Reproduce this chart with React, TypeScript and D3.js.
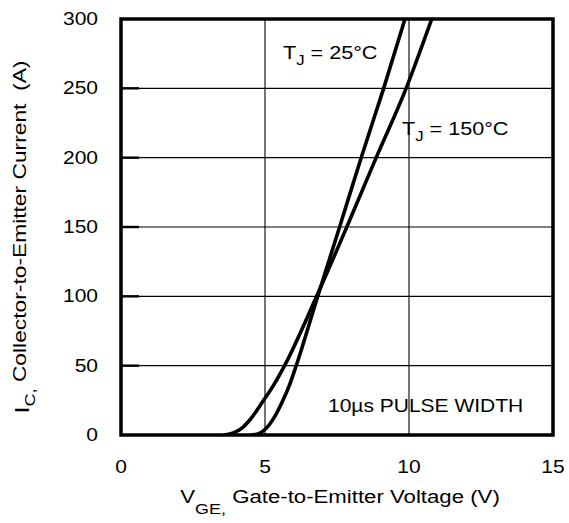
import * as d3 from "d3";

// Transfer characteristic
const vge25 = [4.55, 4.75, 5.0, 5.3, 5.6, 5.85, 6.1, 6.8, 7.59, 8.34, 9.12, 9.86];
const ic25 = [0, 0.8, 4, 12, 24, 36, 51, 98, 150, 200, 250, 300];

const vge150 = [3.6, 3.9, 4.2, 4.47, 4.95, 5.3, 5.68, 6.75, 7.84, 8.86, 9.9, 10.79];
const ic150 = [0, 1.5, 5, 10.8, 25, 36, 50, 98, 150, 200, 250, 300];

const xTicks = [0, 5, 10, 15];
const yTicks = [0, 50, 100, 150, 200, 250, 300];

const W = 569;
const H = 523;
const left = 121;
const right = 553;
const top = 19;
const bottom = 435;
const STRETCH = 1.2;
const FONT = "'Liberation Sans', Arial, Helvetica, sans-serif";

const x = d3.scaleLinear().domain([0, 15]).range([left, right]);
const y = d3.scaleLinear().domain([0, 300]).range([bottom, top]);

const line = d3
  .line<[number, number]>()
  .x((d) => x(d[0]))
  .y((d) => y(d[1]))
  .curve(d3.curveMonotoneX);

const pts = (vs: number[], is: number[]) =>
  vs.map((v, i) => [v, is[i]] as [number, number]);

export default function App() {
  return (
    <div style={{ position: "absolute", left: 0, top: 0 }}>
      <svg width={W} height={H} style={{ display: "block", background: "#fff" }} fontFamily={FONT}>
        <defs>
          <clipPath id="plot">
            <rect x={left} y={top} width={right - left} height={bottom - top} />
          </clipPath>
        </defs>

        {/* grid */}
        {xTicks.slice(1, -1).map((t) => (
          <line key={"gx" + t} x1={x(t)} x2={x(t)} y1={top} y2={bottom} stroke="#000" strokeWidth={1.1} />
        ))}
        {yTicks.slice(1, -1).map((t) => (
          <g key={"gy" + t}>
            <line x1={left} x2={right} y1={y(t)} y2={y(t)} stroke="#000" strokeWidth={1.1} />
            <line x1={left} x2={left + 18} y1={y(t)} y2={y(t)} stroke="#000" strokeWidth={2.4} />
          </g>
        ))}

        {/* curves */}
        <g clipPath="url(#plot)" fill="none" stroke="#000" strokeWidth={3.6} strokeLinecap="round">
          <path d={line(pts(vge25, ic25)) ?? ""} />
          <path d={line(pts(vge150, ic150)) ?? ""} />
        </g>

        <rect x={left} y={top} width={right - left} height={bottom - top} fill="none" stroke="#000" strokeWidth={3.5} />

        {/* tick labels */}
        {yTicks.map((t) => (
          <text key={"ty" + t} transform={`translate(98,${y(t) + 6}) scale(${STRETCH},1)`} textAnchor="end" fontSize={17.5}>
            {t}
          </text>
        ))}
        {xTicks.map((t) => (
          <text key={"tx" + t} transform={`translate(${x(t)},473) scale(${STRETCH},1)`} textAnchor="middle" fontSize={17.5}>
            {t}
          </text>
        ))}

        {/* axis titles */}
        <text transform={`translate(340,503) scale(${STRETCH},1)`} textAnchor="middle" fontSize={18.5} style={{ whiteSpace: "pre" }}>
          <tspan>V</tspan>
          <tspan fontSize={15} dy={11}>GE,</tspan>
          <tspan dy={-11}> Gate-to-Emitter Voltage (V)</tspan>
        </text>
        <text transform={`translate(26,237) rotate(-90) scale(${STRETCH},1)`} textAnchor="middle" fontSize={19} style={{ whiteSpace: "pre" }}>
          <tspan fontSize={21} dy={3}>I</tspan>
          <tspan fontSize={15} dy={6}>C,</tspan>
          <tspan dy={-9}> Collector-to-Emitter Current  (A)</tspan>
        </text>

        {/* annotations */}
        <text transform={`translate(283,59) scale(${STRETCH},1)`} fontSize={18} style={{ whiteSpace: "pre" }}>
          <tspan>T</tspan>
          <tspan fontSize={14} dy={6}>J</tspan>
          <tspan dy={-6}> = 25°C</tspan>
        </text>
        <text transform={`translate(402,135) scale(${STRETCH},1)`} fontSize={18} style={{ whiteSpace: "pre" }}>
          <tspan>T</tspan>
          <tspan fontSize={14} dy={6}>J</tspan>
          <tspan dy={-6}> = 150°C</tspan>
        </text>
        <text transform={`translate(328,412) scale(${STRETCH},1)`} fontSize={17.5}>
          10µs PULSE WIDTH
        </text>
      </svg>
    </div>
  );
}
